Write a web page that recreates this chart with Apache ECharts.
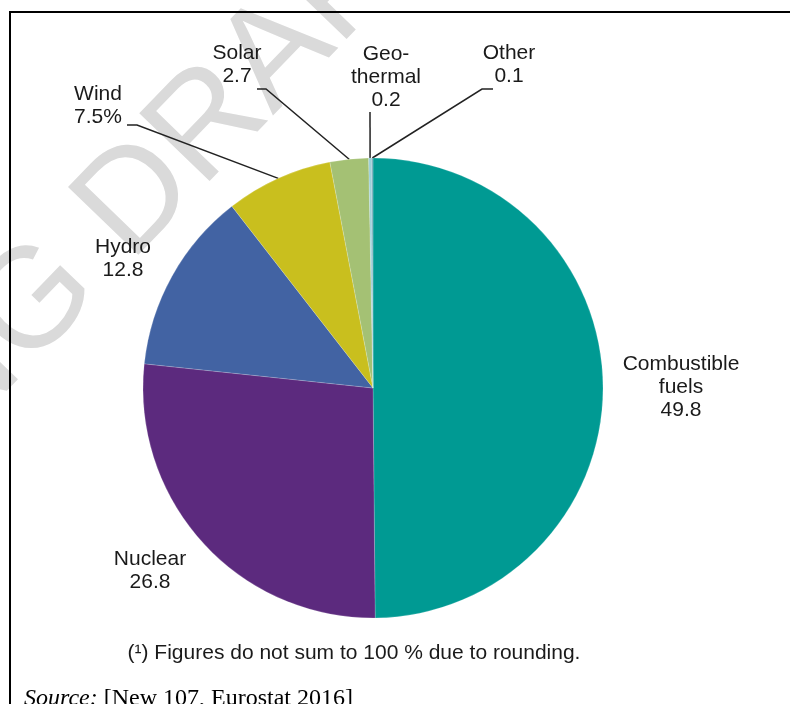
<!DOCTYPE html>
<html><head><meta charset="utf-8">
<script src="https://cdn.jsdelivr.net/npm/echarts@6/dist/echarts.min.js"></script>
<style>html,body{margin:0;padding:0;background:#fff}#c{width:790px;height:704px}</style>
</head><body><div id="c"></div>
<script>
const categories = ['Combustible fuels','Nuclear','Hydro','Wind','Solar','Geothermal','Other'];
const labelTexts = ['Combustible\nfuels\n49.8','Nuclear\n26.8','Hydro\n12.8','Wind\n7.5%','Solar\n2.7','Geo-\nthermal\n0.2','Other\n0.1'];
const values = [49.8, 26.8, 12.8, 7.5, 2.7, 0.2, 0.1];
const colors = ['#009a93','#5c2a7e','#4263a3','#c9bf1e','#a4c174','#9ccfd9','#6fa8b8'];
const footnote = '(\u00b9) Figures do not sum to 100 % due to rounding.';
const sourceLabel = 'Source:';
const sourceRef = ' [New 107, Eurostat 2016]';
const watermarkBefore = 'WORKING ';
const watermarkAfter = 'DRAFT IN PROGRESS';

// label placement (px): label centre, leader line elbow and end
const labelLayoutPx = {
  'Combustible fuels': {x:681, y:387},
  'Nuclear': {x:150, y:571},
  'Hydro': {x:123, y:259},
  'Wind': {x:98, y:106, line:[[137,125],[127,125]]},
  'Solar': {x:237, y:65, line:[[266,89],[257,89]]},
  'Geothermal': {x:386, y:77, line:[[370,112],[370,112]]},
  'Other': {x:509, y:65, line:[[482,89],[493,89]]}
};

const FONT = '"Liberation Sans", Arial, sans-serif';
const SERIF = '"Liberation Serif", "Times New Roman", serif';
const data = categories.map((c, i) => ({
  name: c,
  value: values[i],
  itemStyle: {color: colors[i]},
  label: {formatter: labelTexts[i]},
  labelLine: {show: !!labelLayoutPx[c].line}
}));

const chart = echarts.init(document.getElementById('c'), null, {renderer: 'canvas'});
chart.setOption({
  animation: false,
  backgroundColor: '#fff',
  graphic: [
    {type:'group', x:102, y:236, rotation:46 * Math.PI / 180, z:0, silent:true, children:[
      {type:'text', style:{text:watermarkBefore, align:'right', verticalAlign:'middle', fontSize:142, fontFamily:FONT, fill:'#dadada'}},
      {type:'text', style:{text:watermarkAfter, align:'left', verticalAlign:'middle', fontSize:142, fontFamily:FONT, fill:'#dadada'}}
    ]},
    {type:'polyline', z:1, silent:true, shape:{points:[[10,704],[10,12],[790,12]]}, style:{stroke:'#000', lineWidth:2, fill:null}},
    {type:'text', x:354, y:653, z:5, style:{text:footnote, align:'center', verticalAlign:'middle', fontSize:21, fontFamily:FONT, fill:'#1a1a1a'}},
    {type:'text', x:24, y:699, z:5, style:{
      text:'{i|' + sourceLabel + '}{n|' + sourceRef + '}', align:'left', verticalAlign:'middle',
      rich:{
        i:{fontStyle:'italic', fontSize:24, fontFamily:SERIF, fill:'#000'},
        n:{fontSize:24, fontFamily:SERIF, fill:'#000'}
      }}}
  ],
  series: [{
    type: 'pie',
    center: [373, 388],
    radius: 230,
    startAngle: 90,
    clockwise: true,
    avoidLabelOverlap: false,
    silent: true,
    itemStyle: {borderColor: 'rgba(255,255,255,0.35)', borderWidth: 0.5},
    label: {
      show: true, position: 'outside', fontSize: 21, lineHeight: 23,
      fontFamily: FONT, color: '#1a1a1a', align: 'center'
    },
    labelLine: {show: true, length: 10, length2: 10, lineStyle: {color: '#222', width: 1.5}},
    labelLayout: function (params) {
      const L = labelLayoutPx[categories[params.dataIndex]];
      const out = {x: L.x, y: L.y, align: 'center', verticalAlign: 'middle'};
      if (L.line && params.labelLinePoints) {
        out.labelLinePoints = [params.labelLinePoints[0], L.line[0], L.line[1]];
      }
      return out;
    },
    data: data
  }]
});
</script></body></html>
